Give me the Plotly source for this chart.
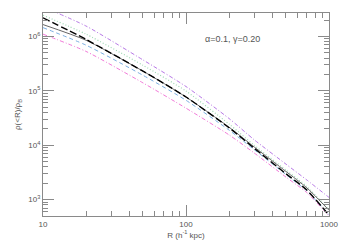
import plotly.graph_objects as go

# radius in h^-1 kpc and mean interior density contrast for each model curve
R = [10, 20, 50, 100, 200, 300, 500, 700, 1000]
rho_purple = [3.5e6, 1.55e6, 3.7e5, 1.2e5, 3.1e4, 1.26e4, 4.5e3, 2.3e3, 1.1e3]
rho_green = [2.45e6, 1.1e6, 2.95e5, 9.9e4, 2.45e4, 1.0e4, 3.5e3, 1.75e3, 650]
rho_gray = [1.65e6, 8.5e5, 2.3e5, 7.7e4, 2.15e4, 9.3e3, 3.3e3, 1.65e3, 640]
rho_black = [2.2e6, 8.8e5, 2.3e5, 7.7e4, 2.1e4, 8.8e3, 3.0e3, 1.5e3, 520]
rho_blue = [1.45e6, 6.9e5, 1.93e5, 6.7e4, 1.9e4, 8.3e3, 2.9e3, 1.45e3, 530]
rho_pink = [1.1e6, 5.3e5, 1.4e5, 4.8e4, 1.55e4, 7.2e3, 2.6e3, 1.35e3, 500]

x_ticks = [10, 100, 1000]
x_labels = ["10", "100", "1000"]
y_ticks = [1e3, 1e4, 1e5, 1e6]
y_labels = ["10<sup>3</sup>", "10<sup>4</sup>", "10<sup>5</sup>", "10<sup>6</sup>"]
label = "α=0.1, γ=0.20"

# minor tick positions, 2..9 within each decade
x_minor = [m * d for d in [10, 100] for m in range(2, 10)]
y_minor = [m * d for d in [100, 1e3, 1e4, 1e5, 1e6] for m in range(2, 10)]

curves = [
    (rho_purple, "#b779e6", "4px,2px,1px,2px", 1),
    (rho_green, "#9fd9b4", "1px,2px", 1.2),
    (rho_pink, "#f27ad9", "4px,2px,1px,2px", 1),
    (rho_blue, "#7aaee0", "4px,3px", 1),
    (rho_gray, "#666666", "solid", 1),
    (rho_black, "#000000", "7px,3px", 1.4),
]

fig = go.Figure()
for ys, col, dash, w in curves:
    fig.add_trace(go.Scatter(x=R, y=ys, mode="lines",
                             line=dict(color=col, dash=dash, width=w, shape="spline", smoothing=0.6),
                             showlegend=False, hoverinfo="skip"))

axis_col = "#8a8a8a"
font = dict(family="Liberation Sans, Arial, sans-serif", size=8, color="#555555")

fig.update_xaxes(type="log", range=[1, 3], tickvals=x_ticks, ticktext=x_labels,
                 ticks="inside", ticklen=11, tickcolor=axis_col, mirror="allticks",
                 showline=True, linecolor=axis_col, linewidth=1, showgrid=False, zeroline=False,
                 minor=dict(tickvals=x_minor, ticks="inside", ticklen=5, tickcolor=axis_col, showgrid=False),
                 title=dict(text="R (h<sup>-1</sup> kpc)", font=font, standoff=4), tickfont=font)
fig.update_yaxes(type="log", range=[2.70, 6.43], tickvals=y_ticks, ticktext=y_labels,
                 ticks="inside", ticklen=11, tickcolor=axis_col, mirror="allticks",
                 showline=True, linecolor=axis_col, linewidth=1, showgrid=False, zeroline=False,
                 minor=dict(tickvals=y_minor, ticks="inside", ticklen=5, tickcolor=axis_col, showgrid=False),
                 title=dict(text="ρ(<R)/ρ<sub>B</sub>", font=font, standoff=6), tickfont=font)

fig.add_annotation(text=label, xref="paper", yref="paper", x=0.765, y=0.905,
                   showarrow=False, font=dict(family="Liberation Sans, Arial, sans-serif", size=9, color="#555555"))

fig.update_layout(width=350, height=250, margin=dict(l=43, r=13, t=13, b=28),
                  paper_bgcolor="white", plot_bgcolor="white")

# drop the default body margin so the 350x250 figure fills the window exactly
fig.write_html("out.html", config={"displayModeBar": False},
               post_script="document.body.style.margin='0';document.body.style.overflow='hidden';")
